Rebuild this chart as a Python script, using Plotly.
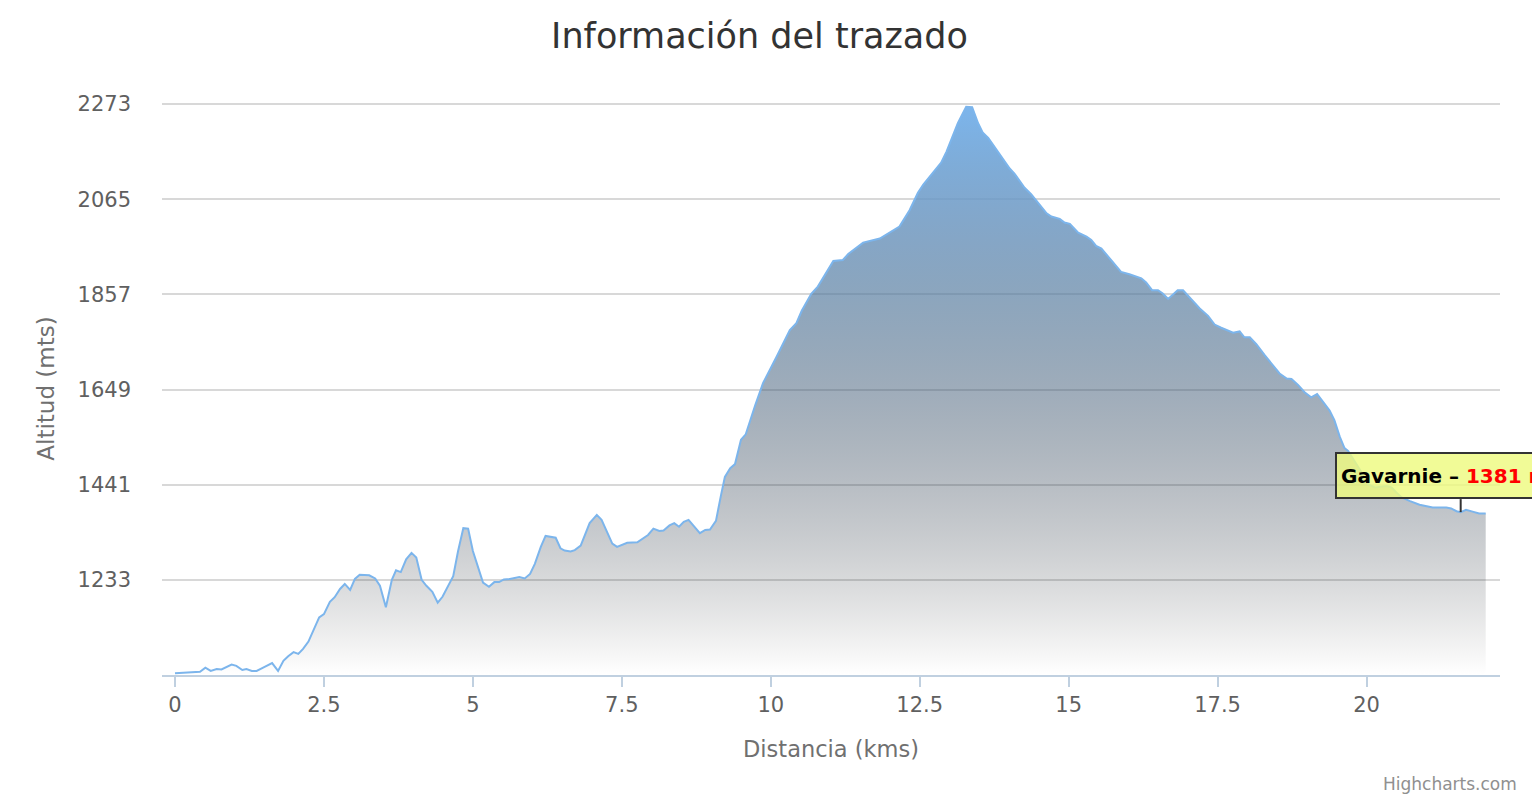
import plotly.graph_objects as go

# route profile
distance_km = [
    0.00, 0.20, 0.42, 0.51, 0.60, 0.70, 0.78, 0.95, 1.03, 1.13, 1.20, 1.29, 1.37,
    1.48, 1.63, 1.73, 1.82, 1.90, 1.99, 2.07, 2.15, 2.24, 2.32, 2.42, 2.50, 2.60,
    2.68, 2.77, 2.85, 2.94, 3.02, 3.10, 3.26, 3.36, 3.44, 3.54, 3.64, 3.71, 3.79,
    3.88, 3.97, 4.05, 4.14, 4.22, 4.32, 4.41, 4.49, 4.59, 4.67, 4.75, 4.84, 4.92,
    5.00, 5.17, 5.27, 5.36, 5.44, 5.52, 5.62, 5.78, 5.87, 5.96, 6.04, 6.14, 6.22,
    6.39, 6.47, 6.54, 6.64, 6.71, 6.81, 6.96, 7.08, 7.16, 7.34, 7.42, 7.59, 7.76,
    7.94, 8.03, 8.13, 8.20, 8.30, 8.38, 8.46, 8.54, 8.62, 8.81, 8.90, 8.98, 9.08,
    9.16, 9.23, 9.32, 9.40, 9.50, 9.58, 9.74, 9.87, 10.10, 10.32, 10.43, 10.52,
    10.68, 10.79, 11.05, 11.21, 11.30, 11.55, 11.83, 12.03, 12.16, 12.33, 12.47,
    12.56, 12.67, 12.78, 12.86, 12.95, 13.14, 13.28, 13.38, 13.48, 13.56, 13.65,
    13.79, 13.93, 14.01, 14.09, 14.26, 14.37, 14.48, 14.63, 14.71, 14.85, 14.93,
    15.02, 15.16, 15.30, 15.38, 15.46, 15.55, 15.69, 15.88, 16.02, 16.22, 16.30,
    16.40, 16.50, 16.58, 16.67, 16.83, 16.92, 17.06, 17.20, 17.34, 17.45, 17.56,
    17.76, 17.87, 17.95, 18.04, 18.15, 18.29, 18.43, 18.54, 18.66, 18.74, 18.85,
    18.96, 19.07, 19.17, 19.27, 19.38, 19.46, 19.55, 19.63, 19.69, 19.80, 19.92,
    20.02, 20.14, 20.34, 20.42, 20.50, 20.59, 20.73, 20.89, 21.11, 21.34, 21.42,
    21.51, 21.58, 21.67, 21.78, 21.89, 22.00,
]
altitude_m = [
    1029, 1030, 1032, 1041, 1034, 1038, 1037, 1048, 1045, 1036, 1038, 1034, 1034,
    1041, 1051, 1034, 1056, 1066, 1075, 1071, 1082, 1098, 1123, 1151, 1158, 1185,
    1195, 1213, 1224, 1211, 1235, 1244, 1243, 1236, 1220, 1173, 1233, 1254, 1250,
    1278, 1292, 1282, 1233, 1220, 1207, 1183, 1196, 1222, 1241, 1295, 1346, 1345,
    1296, 1227, 1218, 1228, 1228, 1234, 1235, 1239, 1236, 1246, 1268, 1305, 1329,
    1325, 1302, 1297, 1295, 1298, 1308, 1357, 1375, 1364, 1312, 1305, 1314, 1315,
    1331, 1345, 1340, 1341, 1352, 1357, 1349, 1360, 1364, 1335, 1342, 1343, 1362,
    1415, 1458, 1477, 1486, 1539, 1551, 1615, 1663, 1721, 1779, 1794, 1821,
    1858, 1874, 1930, 1932, 1945, 1970, 1979, 1994, 2005, 2041, 2079,
    2097, 2114, 2132, 2145, 2169, 2231, 2267, 2266, 2231, 2210, 2199,
    2172, 2147, 2132, 2121, 2090, 2076, 2058, 2034, 2027, 2022, 2014,
    2011, 1992, 1983, 1976, 1963, 1957, 1936, 1906, 1901, 1892, 1883,
    1866, 1866, 1859, 1847, 1866, 1866, 1845, 1826, 1810, 1791, 1784,
    1773, 1776, 1763, 1763, 1748, 1724, 1703, 1684, 1673, 1672, 1659,
    1643, 1632, 1639, 1622, 1603, 1582, 1546, 1521, 1515, 1492, 1467,
    1442, 1435, 1438, 1435, 1424, 1413, 1405, 1397, 1391, 1391, 1389,
    1383, 1381, 1386, 1382, 1378, 1378,
]

y_ticks = [1233, 1441, 1649, 1857, 2065, 2273]
y_min = 1025
y_max = 2277.4   # a couple of px above the top tick so its gridline is drawn
x_ticks = [0, 2.5, 5, 7.5, 10, 12.5, 15, 17.5, 20]
x_labels = ["0", "2.5", "5", "7.5", "10", "12.5", "15", "17.5", "20"]

tooltip_name = "Gavarnie"
tooltip_km = 21.58
tooltip_alt = 1381

FONT = "DejaVu Sans"

# page body has an 8px margin, so the figure is 8px smaller and everything
# is placed 8px up/left of where it sits in the reference
W, H = 1532, 792

# highcharts style gradient: series blue fading to transparent near-black
grad = []
n = 20
for i in range(n + 1):
    p = i / n          # 0 = bottom, 1 = top
    t = 1 - p
    r = 124 * (1 - t) + 2 * t
    g = 181 * (1 - t)
    b = 236 * (1 - t)
    grad.append([p, f"rgba({r:.0f},{g:.0f},{b:.0f},{1 - t:.3f})"])

fig = go.Figure()
fig.add_trace(go.Scatter(
    x=distance_km,
    y=altitude_m,
    mode="lines",
    line=dict(color="#7cb5ec", width=2),
    fill="tozeroy",
    fillgradient=dict(type="vertical", colorscale=grad,
                      start=y_min, stop=max(altitude_m)),
    hoverinfo="skip",
    showlegend=False,
))

# tooltip box (runs off the right edge like in the original screenshot)
fig.add_annotation(
    x=tooltip_km, y=tooltip_alt, xref="x", yref="y",
    text=f"<b>{tooltip_name} – <span style='color:#ff0000'>{tooltip_alt} m</span></b>",
    showarrow=False,
    xanchor="left", yanchor="bottom",
    xshift=-126, yshift=13,
    width=230, height=35, align="left", valign="middle",
    font=dict(family=FONT, size=20, color="#000000"),
    bgcolor="rgba(238,250,128,0.82)",
    bordercolor="#333333", borderwidth=2, borderpad=4,
)
fig.add_shape(
    type="line", xref="x", yref="y",
    x0=tooltip_km, x1=tooltip_km,
    ysizemode="pixel", yanchor=tooltip_alt, y0=0, y1=13,
    line=dict(color="#333333", width=2),
)

fig.add_annotation(
    text="Highcharts.com", xref="paper", yref="paper",
    x=1.0142, y=-0.191, xanchor="right", yanchor="middle",
    showarrow=False,
    font=dict(family=FONT, size=17, color="#909090"),
)

fig.update_layout(
    width=W, height=H,
    paper_bgcolor="white", plot_bgcolor="white",
    margin=dict(l=154, r=40, t=94, b=125),
    font=dict(family=FONT, color="#606060"),
    title=dict(
        text="Información del trazado",
        x=751.5 / W, xref="container", xanchor="center",
        y=1 - 28 / H, yref="container", yanchor="middle",
        font=dict(family=FONT, size=35, color="#333333"),
    ),
    xaxis=dict(
        range=[-0.218, 22.24],
        tickvals=x_ticks, ticktext=x_labels,
        showgrid=False, zeroline=False,
        showline=True, linecolor="#c0d0e0", linewidth=2,
        ticks="outside", ticklen=10, tickwidth=2, tickcolor="#c0d0e0",
        tickfont=dict(family=FONT, size=21, color="#606060"),
        title=dict(text="Distancia (kms)", standoff=25,
                   font=dict(family=FONT, size=22.5, color="#707070")),
    ),
    yaxis=dict(
        range=[y_min, y_max],
        tickvals=y_ticks,
        showgrid=True, gridcolor="#d8d8d8", gridwidth=1.5,
        zeroline=False, showline=False,
        ticks="", ticklabelstandoff=30,
        tickfont=dict(family=FONT, size=21, color="#606060"),
        title=dict(text="Altitud (mts)", standoff=16,
                   font=dict(family=FONT, size=23, color="#707070")),
    ),
)

fig.write_html("out.html")
